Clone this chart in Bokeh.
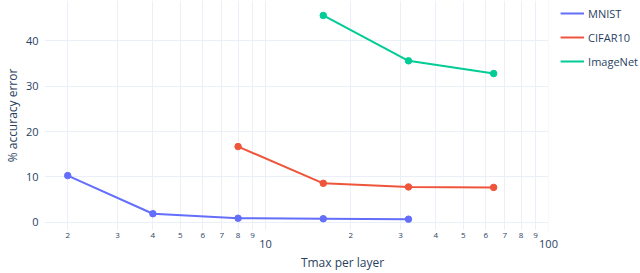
from bokeh.plotting import figure
from bokeh.models import FixedTicker, LogAxis, Legend, LegendItem, Range1d, BoxAnnotation
from bokeh.embed import file_html
from bokeh.resources import INLINE

# ---- data ----
mnist_x = [2, 4, 8, 16, 32]
mnist_y = [10.3, 1.9, 0.9, 0.8, 0.7]
cifar_x = [8, 16, 32, 64]
cifar_y = [16.7, 8.6, 7.8, 7.7]
imagenet_x = [16, 32, 64]
imagenet_y = [45.6, 35.6, 32.8]

series_names = ["MNIST", "CIFAR10", "ImageNet"]
series_colors = ["#636efa", "#EF553B", "#00cc96"]

minor_ticks = [2, 3, 4, 5, 6, 7, 8, 9, 20, 30, 40, 50, 60, 70, 80, 90]
minor_labels = ["2", "3", "4", "5", "6", "7", "8", "9", "2", "3", "4", "5", "6", "7", "8", "9"]
major_ticks = [10, 100]
y_ticks = [0, 10, 20, 30, 40]
x_max = 100

FONT = "Open Sans"
TXT = "#2a3f5f"
GRID = "#ebf0f8"

p = figure(width=640, height=273, x_axis_type="log",
           x_range=Range1d(10 ** 0.219, 10 ** (2 + 92 / 283)), y_range=Range1d(-1.8, 48.9),
           output_backend="svg", toolbar_location=None,
           min_border_left=43, min_border_top=0, min_border_right=0, min_border_bottom=0)
p.outline_line_color = None
p.background_fill_color = "white"
p.border_fill_color = "white"

# minor-label axis (first below)
ax1 = p.xaxis[0]
ax1.ticker = FixedTicker(ticks=minor_ticks)
ax1.major_label_overrides = {t: l for t, l in zip(minor_ticks, minor_labels)}
ax1.major_label_text_font = FONT
ax1.major_label_text_font_size = "8px"
ax1.major_label_text_color = TXT
ax1.major_label_standoff = 2
ax1.major_tick_in = 0
ax1.major_tick_out = 0
ax1.axis_line_color = None
ax1.major_tick_line_color = None
ax1.minor_tick_line_color = None

# decade axis (second below)
ax2 = LogAxis(ticker=FixedTicker(ticks=major_ticks))
ax2.major_label_overrides = {10: "10", 100: "100"}
ax2.major_label_text_font = FONT
ax2.major_label_text_font_size = "11px"
ax2.major_label_text_color = TXT
ax2.major_label_standoff = -1
ax2.major_tick_in = 0
ax2.major_tick_out = 0
ax2.axis_line_color = None
ax2.major_tick_line_color = None
ax2.minor_tick_line_color = None
ax2.axis_label = "Tmax per layer"
ax2.axis_label_text_font = FONT
ax2.axis_label_text_font_size = "12px"
ax2.axis_label_text_font_style = "normal"
ax2.axis_label_text_color = TXT
ax2.axis_label_standoff = 3
p.add_layout(ax2, "below")

p.xgrid[0].ticker = FixedTicker(ticks=sorted(minor_ticks + major_ticks))
p.xgrid[0].grid_line_color = GRID
p.xgrid[0].grid_line_width = 1

ay = p.yaxis[0]
ay.ticker = FixedTicker(ticks=y_ticks)
ay.major_label_text_font = FONT
ay.major_label_text_font_size = "11px"
ay.major_label_text_color = TXT
ay.major_label_standoff = 6
ay.major_tick_in = 0
ay.major_tick_out = 0
ay.axis_line_color = None
ay.major_tick_line_color = None
ay.minor_tick_line_color = None
ay.axis_label = "% accuracy error"
ay.axis_label_text_font = FONT
ay.axis_label_text_font_size = "12px"
ay.axis_label_text_font_style = "normal"
ay.axis_label_text_color = TXT
ay.axis_label_standoff = 2
p.ygrid[0].ticker = FixedTicker(ticks=y_ticks)
p.ygrid[0].grid_line_color = GRID
p.ygrid[0].grid_line_width = 1

# blank area right of the last decade (legend area, no grid)
p.add_layout(BoxAnnotation(left=x_max, fill_color="white", fill_alpha=1.0,
                           line_color=None, level="underlay"))

items = []
for xs, ys, name, col in zip([mnist_x, cifar_x, imagenet_x], [mnist_y, cifar_y, imagenet_y],
                             series_names, series_colors):
    r = p.line(xs, ys, line_color=col, line_width=2)
    p.scatter(xs, ys, size=6.5, fill_color=col, line_color=col)
    items.append(LegendItem(label=name, renderers=[r]))

legend = Legend(items=items, location="top_right", orientation="vertical",
                label_text_font=FONT, label_text_font_size="11px", label_text_color=TXT,
                glyph_width=24, glyph_height=22, label_height=22, label_standoff=4,
                spacing=2, padding=0, margin=2,
                background_fill_alpha=0, border_line_color=None)
p.add_layout(legend, "center")

open("out.html", "w").write(file_html(p, INLINE))
